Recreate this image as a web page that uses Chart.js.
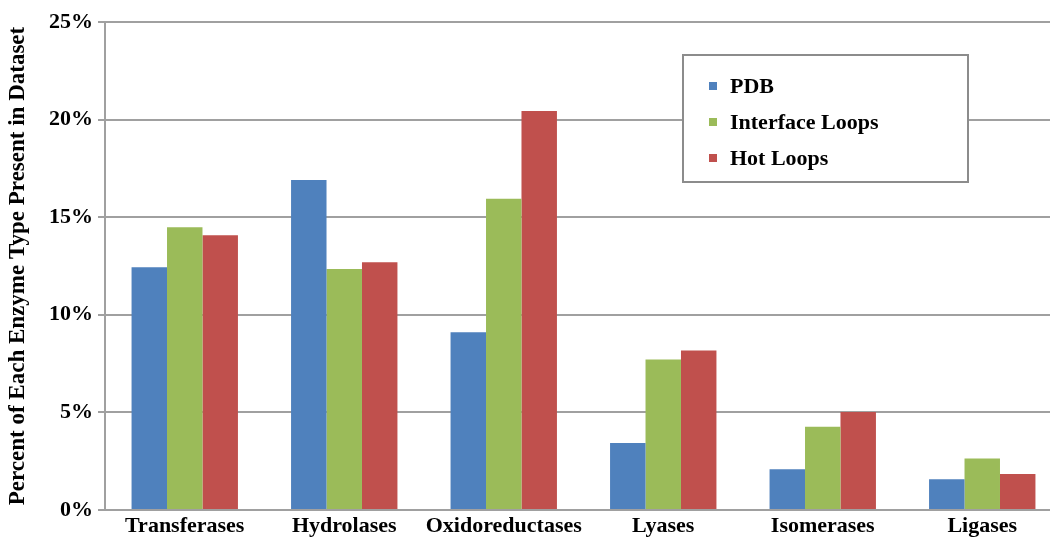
<!DOCTYPE html>
<html>
<head>
<meta charset="utf-8">
<script src="https://cdn.jsdelivr.net/npm/chart.js@4/dist/chart.umd.min.js"></script>
<style>
html,body{margin:0;padding:0;background:#fff;overflow:hidden;width:1050px;height:539px;}
#wrap{position:absolute;left:0;top:0;width:1064px;height:539px;}
</style>
</head>
<body>
<div id="wrap"><canvas id="c" width="1064" height="539"></canvas></div>
<script>
const categories = ["Transferases","Hydrolases","Oxidoreductases","Lyases","Isomerases","Ligases"];
const pdb = [12.43, 16.9, 9.11, 3.43, 2.09, 1.58];
const interfaceLoops = [14.48, 12.34, 15.94, 7.71, 4.27, 2.64];
const hotLoops = [14.07, 12.69, 20.44, 8.17, 5.02, 1.84];
const yTicks = [0, 5, 10, 15, 20, 25];
const seriesNames = ["PDB","Interface Loops","Hot Loops"];
const seriesColors = ["#4F81BD","#9BBB59","#C0504D"];

const FONT = "'Liberation Serif', 'Times New Roman', serif";

const legendBox = {
  id: 'legendBox',
  afterDraw(chart) {
    const ctx = chart.ctx;
    ctx.save();
    const x0 = 683, y0 = 55, w = 285, h = 127;
    ctx.fillStyle = '#ffffff';
    ctx.fillRect(x0, y0, w, h);
    ctx.strokeStyle = '#8c8c8c';
    ctx.lineWidth = 2;
    ctx.strokeRect(x0, y0, w, h);
    const rows = [86, 122, 158];
    ctx.font = "bold 22px " + FONT;
    ctx.textBaseline = 'middle';
    ctx.textAlign = 'left';
    chart.data.datasets.forEach((ds, i) => {
      ctx.fillStyle = ds.backgroundColor;
      ctx.fillRect(709, rows[i] - 4, 8, 8);
      ctx.fillStyle = '#000';
      ctx.fillText(ds.label, 730, rows[i] + 1);
    });
    ctx.restore();
  }
};

new Chart(document.getElementById('c'), {
  type: 'bar',
  data: {
    labels: categories,
    datasets: [
      {label: seriesNames[0], data: pdb, backgroundColor: seriesColors[0]},
      {label: seriesNames[1], data: interfaceLoops, backgroundColor: seriesColors[1]},
      {label: seriesNames[2], data: hotLoops, backgroundColor: seriesColors[2]}
    ]
  },
  options: {
    responsive: false,
    animation: false,
    devicePixelRatio: 1,
    layout: {padding: {top: 22, right: 2, left: 0, bottom: 0}},
    datasets: {bar: {categoryPercentage: 0.667, barPercentage: 1.0, borderWidth: 0}},
    plugins: {legend: {display: false}, tooltip: {enabled: false}},
    scales: {
      x: {
        grid: {display: false, drawTicks: false},
        border: {display: true, color: '#a0a0a0', width: 2},
        ticks: {color: '#000', font: {family: FONT, size: 22, weight: 'bold'}, padding: 3, maxRotation: 0, autoSkip: false},
        afterFit(s) { s.height = 29; }
      },
      y: {
        min: 0, max: 25,
        afterBuildTicks(s) { s.ticks = yTicks.map(v => ({value: v})); },
        grid: {color: '#a0a0a0', lineWidth: 2, tickLength: 7, drawTicks: true},
        border: {display: true, color: '#a0a0a0', width: 2},
        ticks: {color: '#000', font: {family: FONT, size: 22, weight: 'bold'}, padding: 5, callback: v => v + '%'},
        title: {display: true, text: 'Percent of Each Enzyme Type Present in Dataset', color: '#000',
                font: {family: FONT, size: 23, weight: 'bold'}, padding: {top: 4, bottom: 0}},
        afterFit(s) { s.width = 105; }
      }
    }
  },
  plugins: [legendBox]
});
</script>
</body>
</html>
